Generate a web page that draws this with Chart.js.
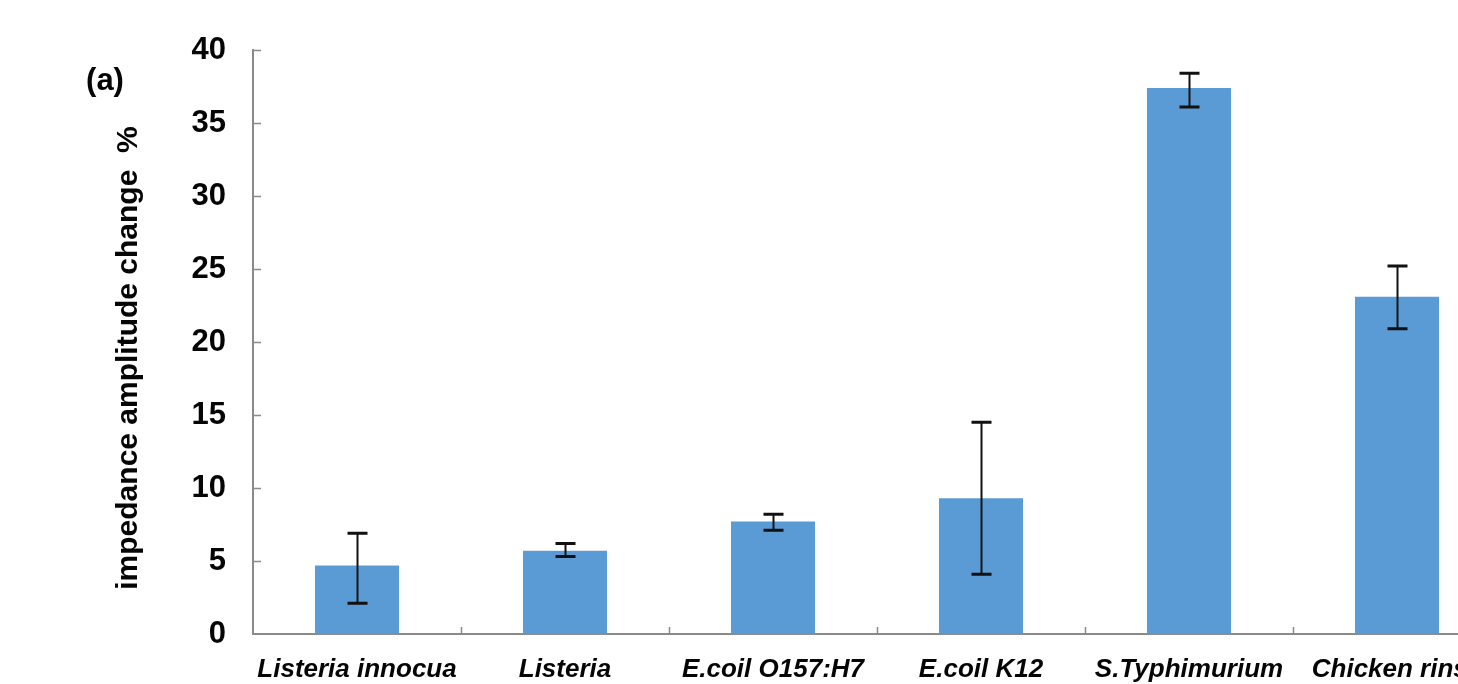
<!DOCTYPE html>
<html>
<head>
<meta charset="utf-8">
<script src="https://cdn.jsdelivr.net/npm/chart.js@4.4.1/dist/chart.umd.min.js"></script>
<style>
  html, body { margin: 0; padding: 0; background: #ffffff; overflow: hidden; }
  #wrap { position: relative; width: 1510px; height: 684px; }
</style>
</head>
<body>
<div id="wrap"><canvas id="chart" width="1510" height="684"></canvas></div>
<script>
// Impedance amplitude change per sample (mean with error range)
const categories = ['Listeria innocua', 'Listeria', 'E.coil O157:H7', 'E.coil K12', 'S.Typhimurium', 'Chicken rinse'];
const meanChange = [4.7, 5.7, 7.7, 9.3, 37.4, 23.1];
const errorLow   = [2.1, 5.3, 7.1, 4.1, 36.1, 20.9];
const errorHigh  = [6.9, 6.2, 8.2, 14.5, 38.4, 25.2];
const yTickValues = [0, 5, 10, 15, 20, 25, 30, 35, 40];

const yTitle = 'impedance amplitude change  %';
const panelLabel = '(a)';

const AXIS_GREY = '#8a8a8a';
const TEXT = '#050505';
const FONT = "'Liberation Sans', Arial, sans-serif";

// Error bars with caps, placed from the y scale
const errorBars = {
  id: 'errorBars',
  afterDatasetsDraw(chart) {
    const { ctx } = chart;
    const y = chart.scales.y;
    const meta = chart.getDatasetMeta(0);
    ctx.save();
    ctx.strokeStyle = '#111111';
    meta.data.forEach((bar, i) => {
      const x = Math.round(bar.x) + 0.5;
      const top = y.getPixelForValue(errorHigh[i]);
      const bot = y.getPixelForValue(errorLow[i]);
      ctx.lineWidth = 2;
      ctx.beginPath();
      ctx.moveTo(x, top);
      ctx.lineTo(x, bot);
      ctx.stroke();
      ctx.lineWidth = 3;
      ctx.beginPath();
      ctx.moveTo(x - 10, top);
      ctx.lineTo(x + 10, top);
      ctx.moveTo(x - 10, bot);
      ctx.lineTo(x + 10, bot);
      ctx.stroke();
    });
    ctx.restore();
  }
};

// Short tick marks pointing into the plot, plus axis title and panel tag
const decorations = {
  id: 'decorations',
  afterDraw(chart) {
    const { ctx, chartArea: a } = chart;
    const x = chart.scales.x;
    const y = chart.scales.y;
    ctx.save();
    ctx.strokeStyle = AXIS_GREY;
    ctx.lineWidth = 1.5;
    ctx.beginPath();
    y.ticks.forEach(t => {
      if (t.value === 0) return;
      const py = Math.round(y.getPixelForValue(t.value)) + 0.5;
      ctx.moveTo(a.left, py);
      ctx.lineTo(a.left + 8, py);
    });
    for (let i = 1; i < categories.length; i++) {
      const px = Math.round((x.getPixelForValue(i - 1) + x.getPixelForValue(i)) / 2) + 0.5;
      ctx.moveTo(px, a.bottom);
      ctx.lineTo(px, a.bottom - 7);
    }
    ctx.stroke();

    ctx.fillStyle = TEXT;
    ctx.font = `bold 30px ${FONT}`;
    ctx.textAlign = 'center';
    ctx.textBaseline = 'middle';
    ctx.save();
    ctx.translate(129, 358);
    ctx.rotate(-Math.PI / 2);
    ctx.fillText(yTitle, 0, 0);
    ctx.restore();

    ctx.font = `bold 31px ${FONT}`;
    ctx.fillText(panelLabel, 105, 81);
    ctx.restore();
  }
};

new Chart(document.getElementById('chart'), {
  type: 'bar',
  data: {
    labels: categories,
    datasets: [{
      data: meanChange,
      backgroundColor: '#5b9bd5',
      borderWidth: 0,
      categoryPercentage: 1.0,
      barPercentage: 0.404
    }]
  },
  options: {
    responsive: false,
    devicePixelRatio: 1,
    animation: false,
    layout: { padding: { top: 50, right: 9, left: 0, bottom: 0 } },
    plugins: { legend: { display: false }, tooltip: { enabled: false }, title: { display: false } },
    scales: {
      x: {
        type: 'category',
        offset: true,
        grid: { display: false, drawTicks: false },
        border: { display: true, color: AXIS_GREY, width: 2 },
        ticks: {
          color: TEXT,
          padding: 20,
          maxRotation: 0,
          autoSkip: false,
          font: { family: FONT, size: 26, weight: 'bold', style: 'italic' }
        },
        afterFit(scale) { scale.height = 50; }
      },
      y: {
        min: 0,
        max: 40,
        afterBuildTicks(scale) { scale.ticks = yTickValues.map(v => ({ value: v })); },
        grid: { display: false, drawTicks: false },
        border: { display: true, color: AXIS_GREY, width: 2 },
        ticks: {
          color: TEXT,
          padding: 27,
          font: { family: FONT, size: 31, weight: 'bold' }
        },
        afterFit(scale) { scale.width = 253; }
      }
    }
  },
  plugins: [errorBars, decorations]
});
</script>
</body>
</html>
